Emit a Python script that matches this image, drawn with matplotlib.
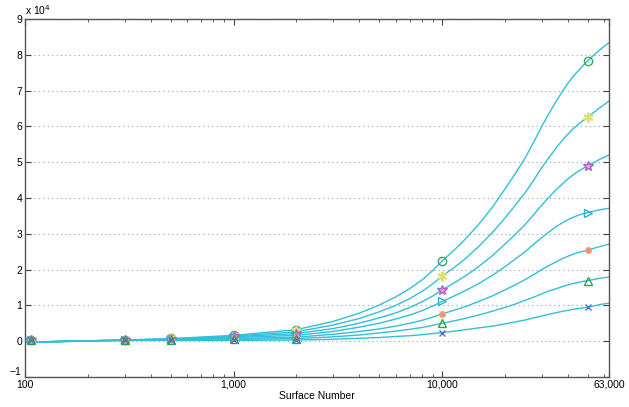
import numpy as np
import matplotlib
matplotlib.use('Agg')
import matplotlib.pyplot as plt
from matplotlib.ticker import FixedLocator, LogLocator, NullFormatter

plt.rcParams['font.family'] = ['Liberation Sans', 'DejaVu Sans']

# curve sample positions (surface number) and values (x 10^4)
curve_x = [100, 300, 500, 1000, 2000, 3000, 4000, 5000, 6000, 7000, 8000, 9000, 10000,
           11500, 13000, 15000, 17500, 20000, 22500, 25000, 27500, 30000, 32500, 35000,
           37500, 40000, 42500, 45000, 47500, 50000, 53000, 56000, 59500, 63000]
curve1 = [-0.03, 0.03, 0.07, 0.16, 0.32, 0.55, 0.78, 1.01, 1.24, 1.47, 1.71, 1.97, 2.24,
          2.56, 2.87, 3.27, 3.76, 4.25, 4.70, 5.12, 5.57, 6.00, 6.36, 6.68,
          6.96, 7.20, 7.40, 7.56, 7.71, 7.84, 7.98, 8.10, 8.23, 8.34]
curve2 = [-0.03, 0.03, 0.06, 0.14, 0.26, 0.45, 0.63, 0.82, 1.00, 1.19, 1.39, 1.60, 1.82,
          2.07, 2.32, 2.65, 3.05, 3.44, 3.81, 4.15, 4.50, 4.85, 5.13, 5.38,
          5.60, 5.78, 5.94, 6.06, 6.17, 6.27, 6.38, 6.49, 6.60, 6.71]
curve3 = [-0.03, 0.03, 0.05, 0.12, 0.21, 0.35, 0.50, 0.65, 0.79, 0.94, 1.10, 1.26, 1.43,
          1.64, 1.83, 2.09, 2.40, 2.71, 2.99, 3.26, 3.54, 3.80, 4.02, 4.22,
          4.38, 4.53, 4.65, 4.75, 4.83, 4.90, 4.98, 5.06, 5.13, 5.20]
curve4 = [-0.03, 0.03, 0.05, 0.10, 0.16, 0.27, 0.39, 0.50, 0.62, 0.73, 0.85, 0.98, 1.11,
          1.27, 1.42, 1.61, 1.85, 2.08, 2.30, 2.50, 2.71, 2.89, 3.05, 3.19,
          3.30, 3.39, 3.46, 3.52, 3.56, 3.59, 3.63, 3.66, 3.69, 3.71]
curve5 = [-0.03, 0.02, 0.04, 0.07, 0.11, 0.19, 0.27, 0.34, 0.42, 0.50, 0.58, 0.67, 0.76,
          0.87, 0.97, 1.11, 1.27, 1.43, 1.58, 1.72, 1.86, 2.00, 2.11, 2.21,
          2.30, 2.37, 2.43, 2.48, 2.51, 2.54, 2.59, 2.63, 2.67, 2.71]
curve6 = [-0.03, 0.02, 0.03, 0.05, 0.07, 0.12, 0.17, 0.23, 0.28, 0.33, 0.38, 0.44, 0.50,
          0.57, 0.64, 0.73, 0.84, 0.94, 1.04, 1.14, 1.23, 1.32, 1.40, 1.46,
          1.52, 1.57, 1.61, 1.64, 1.67, 1.69, 1.72, 1.75, 1.77, 1.79]
curve7 = [-0.03, 0.02, 0.02, 0.02, 0.03, 0.05, 0.08, 0.10, 0.13, 0.15, 0.18, 0.21, 0.24,
          0.28, 0.32, 0.37, 0.42, 0.48, 0.54, 0.59, 0.65, 0.70, 0.75, 0.79,
          0.83, 0.86, 0.89, 0.91, 0.93, 0.95, 0.98, 1.01, 1.04, 1.06]

# measured points
mark_x = [107, 300, 500, 1000, 2000, 10000, 50000]
mark1 = [0.03, 0.04, 0.09, 0.17, 0.32, 2.24, 7.84]
mark2 = [0.03, 0.04, 0.08, 0.15, 0.27, 1.82, 6.27]
mark3 = [0.03, 0.04, 0.07, 0.13, 0.21, 1.43, 4.90]
mark4 = [0.03, 0.04, 0.06, 0.11, 0.16, 1.11, 3.59]
mark5 = [0.03, 0.03, 0.05, 0.08, 0.11, 0.76, 2.54]
mark6 = [0.03, 0.03, 0.04, 0.06, 0.07, 0.50, 1.69]
mark7 = [0.03, 0.03, 0.03, 0.03, 0.03, 0.24, 0.95]

xticks = [100, 1000, 10000, 63000]
xtick_labels = ['100', '1,000', '10,000', '63,000']
yticks = list(range(-1, 10))

curves = [curve1, curve2, curve3, curve4, curve5, curve6, curve7]
marks = [mark1, mark2, mark3, mark4, mark5, mark6, mark7]
styles = [
    dict(marker='o', mfc='none', mec='#3aa860', ms=6),
    dict(marker=(6, 2, 0), mfc='none', mec='#e0e070', ms=7, mew=1.5),
    dict(marker='*', mfc='#e0a0e0', mec='#b060c0', ms=7),
    dict(marker='>', mfc='none', mec='#30b0c8', ms=6),
    dict(marker='o', mfc='#f09070', mec='#f0a080', ms=4),
    dict(marker='^', mfc='none', mec='#30a050', ms=6),
    dict(marker='x', mfc='none', mec='#5070d0', ms=5),
]

fig = plt.figure(figsize=(6.29, 4.07), dpi=100)
ax = fig.add_axes([0.040, 0.074, 0.928, 0.879])

for c in curves:
    ax.plot(curve_x, c, color='#30c0d8', lw=1.0, zorder=2)
for m, st in zip(marks, styles):
    ax.plot(mark_x, m, ls='none', zorder=3, **st)

ax.set_xscale('log')
ax.set_xlim(100, 63000)
ax.set_ylim(-1, 9)
ax.xaxis.set_major_locator(FixedLocator(xticks))
ax.set_xticklabels(xtick_labels)
ax.xaxis.set_minor_locator(LogLocator(base=10, subs=np.arange(2, 10)))
ax.xaxis.set_minor_formatter(NullFormatter())
ax.set_yticks(yticks)
# the -1 label sits a little higher, clear of the "100" below it
ax.set_yticklabels([''] + [str(v) for v in yticks[1:]])
ax.annotate('\u22121', xy=(0, yticks[0]), xycoords=('axes fraction', 'data'),
            xytext=(-2.5, 3.5), textcoords='offset points', ha='right', va='center',
            fontsize=7.5)

ax.tick_params(which='both', direction='in', top=True, right=True,
               labelsize=7.5, color='#444444', pad=2)
ax.tick_params(which='major', length=4)
ax.tick_params(which='minor', length=2.5)
for s in ax.spines.values():
    s.set_color('#555555')
    s.set_linewidth(1.0)

ax.yaxis.grid(True, ls=(0, (1, 3)), color='#8aa8b8', lw=0.8)
ax.set_axisbelow(True)

ax.set_xlabel('Surface Number', fontsize=7.5, labelpad=1)
ax.text(0.0, 1.005, r'x 10$^4$', transform=ax.transAxes, fontsize=7.5,
        ha='left', va='bottom')

fig.savefig('out.png', dpi=100)
